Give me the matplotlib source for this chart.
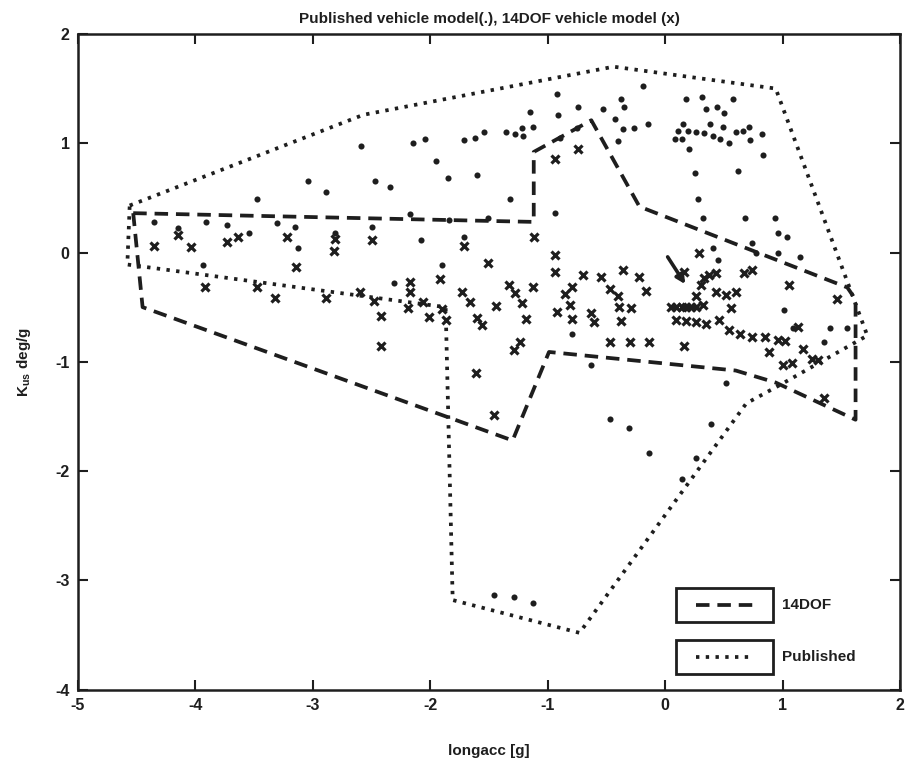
import numpy as np
import matplotlib.pyplot as plt
from matplotlib.lines import Line2D
from matplotlib.patches import Rectangle

plt.rcParams['font.family'] = ['Liberation Sans', 'DejaVu Sans']
plt.rcParams['font.weight'] = 'bold'
plt.rcParams['axes.unicode_minus'] = False
plt.rcParams['mathtext.fontset'] = 'custom'
plt.rcParams['mathtext.rm'] = 'Liberation Sans:bold'
plt.rcParams['mathtext.it'] = 'Liberation Sans:bold'
plt.rcParams['mathtext.bf'] = 'Liberation Sans:bold'

# published vehicle model results (.)  -> longacc [g], Kus [deg/g]
published_pts = np.array([
    (-4.35, 0.28), (-4.15, 0.22), (-3.91, 0.28), (-3.73, 0.25), (-3.48, 0.49), (-3.54, 0.18),
    (-3.31, 0.27), (-3.15, 0.23), (-3.13, 0.04), (-3.04, 0.65), (-2.89, 0.55), (-2.81, 0.18),
    (-2.59, 0.97), (-3.94, -0.11), (-2.50, 0.23), (-2.31, -0.28), (-2.08, 0.11), (-1.90, -0.11),
    (-1.71, 0.14), (-2.47, 0.65), (-2.34, 0.60), (-2.17, 0.35), (-1.84, 0.30), (-1.51, 0.32),
    (-2.15, 1.00), (-2.05, 1.04), (-1.95, 0.84), (-1.85, 0.68), (-1.71, 1.03), (-1.62, 1.05),
    (-1.60, 0.71), (-1.54, 1.10), (-1.36, 1.10), (-1.28, 1.08), (-1.22, 1.14), (-1.21, 1.07),
    (-1.13, 1.15), (-1.15, 1.29), (-0.92, 1.45), (-0.91, 1.26), (-0.75, 1.14), (-0.74, 1.33),
    (-0.53, 1.31), (-0.43, 1.22), (-0.38, 1.40), (-0.35, 1.33), (-0.36, 1.13), (-0.27, 1.14),
    (-0.19, 1.52), (-0.15, 1.18), (-0.40, 1.02), (-0.90, 1.05), (-1.32, 0.49), (-0.94, 0.36),
    (0.18, 1.40), (0.31, 1.42), (0.35, 1.31), (0.44, 1.33), (0.50, 1.28), (0.58, 1.40),
    (0.15, 1.18), (0.38, 1.18), (0.49, 1.15), (0.11, 1.11), (0.19, 1.11), (0.26, 1.10),
    (0.33, 1.09), (0.41, 1.07), (0.08, 1.04), (0.14, 1.04), (0.47, 1.04), (0.54, 1.00),
    (0.60, 1.10), (0.66, 1.11), (0.71, 1.15), (0.72, 1.03), (0.82, 1.08), (0.20, 0.95),
    (0.83, 0.89), (0.25, 0.73), (0.62, 0.75), (0.28, 0.49), (0.32, 0.32), (0.68, 0.32),
    (0.93, 0.32), (0.96, 0.18), (1.04, 0.14), (0.74, 0.09), (0.41, 0.04), (0.77, 0.00),
    (0.96, 0.00), (1.15, -0.04), (0.45, -0.07), (-0.79, -0.75), (-0.63, -1.03), (0.52, -1.19),
    (1.01, -0.53), (1.09, -0.69), (1.40, -0.69), (1.35, -0.82), (1.55, -0.69),
    (-1.46, -3.13), (-1.29, -3.15), (-1.13, -3.21), (-0.47, -1.52), (-0.31, -1.61),
    (-0.14, -1.83), (0.39, -1.57), (0.26, -1.88), (0.14, -2.07),
])

# 14DOF vehicle model results (x)
dof_pts = np.array([
    (-4.35, 0.06), (-4.15, 0.16), (-4.04, 0.05), (-3.73, 0.10), (-3.64, 0.14), (-3.22, 0.14),
    (-3.14, -0.13), (-2.82, 0.01), (-2.81, 0.12), (-3.92, -0.32), (-3.48, -0.32), (-3.32, -0.42),
    (-2.89, -0.42), (-2.60, -0.36), (-2.50, 0.11), (-2.48, -0.44), (-2.42, -0.58), (-2.42, -0.86),
    (-2.17, -0.27), (-2.17, -0.36), (-2.19, -0.51), (-2.06, -0.45), (-2.01, -0.59), (-1.92, -0.24),
    (-1.90, -0.52), (-1.87, -0.62), (-1.71, 0.06), (-1.51, -0.10), (-1.73, -0.36), (-1.66, -0.45),
    (-1.60, -0.60), (-1.56, -0.66), (-1.44, -0.49), (-1.33, -0.30), (-1.28, -0.37), (-1.22, -0.46),
    (-1.19, -0.61), (-1.24, -0.82), (-1.29, -0.89), (-1.13, -0.32), (-1.61, -1.10), (-1.12, 0.14),
    (-0.94, -0.02), (-0.94, 0.86), (-0.74, 0.95), (-0.94, -0.18), (-0.70, -0.21), (-0.55, -0.22),
    (-0.36, -0.16), (-0.22, -0.22), (-0.16, -0.35), (-0.92, -0.54), (-0.85, -0.38), (-0.79, -0.32),
    (-0.81, -0.48), (-0.79, -0.61), (-0.63, -0.55), (-0.61, -0.64), (-0.47, -0.33), (-0.40, -0.40),
    (-0.39, -0.50), (-0.38, -0.63), (-0.29, -0.51), (-0.47, -0.82), (-0.30, -0.82), (-0.14, -0.82),
    (0.16, -0.86), (0.16, -0.18), (0.26, -0.40), (0.30, -0.30), (0.33, -0.23), (0.37, -0.21),
    (0.43, -0.19), (0.29, 0.00), (0.32, -0.48), (0.43, -0.36), (0.52, -0.39), (0.60, -0.36),
    (0.56, -0.51), (0.67, -0.19), (0.74, -0.16), (1.05, -0.30), (0.88, -0.91), (1.00, -1.03),
    (1.08, -1.01), (0.46, -0.62), (0.54, -0.71), (0.64, -0.75), (0.74, -0.77), (0.85, -0.77),
    (0.96, -0.80), (1.02, -0.81), (1.13, -0.68), (1.17, -0.88), (1.25, -0.97), (1.30, -0.98),
    (1.46, -0.43), (1.35, -1.33), (-1.46, -1.49),
    (0.05, -0.50), (0.09, -0.50), (0.14, -0.50), (0.18, -0.50), (0.22, -0.50), (0.26, -0.50),
    (0.09, -0.62), (0.18, -0.63), (0.26, -0.64), (0.35, -0.65),
])

# envelope of the 14DOF results (dashed)
dof_env_x = [-4.53, -1.12, -1.12, -0.63, -0.22, 1.55, 1.62, 1.62, 0.94, 0.60, -0.99, -1.30, -4.45, -4.53]
dof_env_y = [0.36, 0.28, 0.92, 1.21, 0.42, -0.32, -0.43, -1.53, -1.19, -1.08, -0.91, -1.72, -0.50, 0.36]

# envelope of the published results (dotted)
pub_env_x = [-4.56, -2.57, -0.44, 0.94, 1.72, 0.98, 0.69, -0.73, -1.81, -1.87, -4.58, -4.56]
pub_env_y = [0.43, 1.26, 1.70, 1.50, -0.76, -1.21, -1.38, -3.48, -3.18, -0.50, -0.11, 0.43]

ink = '#1e1e1e'
dash_style = (0, (3.6, 2.1))
dot_style = (0, (0.9, 1.7))

fig = plt.figure(figsize=(9.06, 7.62), dpi=100)
ax = fig.add_axes([0.0861, 0.0949, 0.9075, 0.8606])

ax.plot(dof_env_x, dof_env_y, color=ink, lw=2.7, linestyle=dash_style)
ax.plot(pub_env_x, pub_env_y, color=ink, lw=2.7, linestyle=dot_style)

ax.plot(published_pts[:, 0], published_pts[:, 1], 'o', color=ink, ms=4.4, mew=0)
ax.plot(dof_pts[:, 0], dof_pts[:, 1], 'x', color=ink, ms=6, mew=2.3)

# arrow marker drawn on the original figure
ax.annotate('', xy=(0.17, -0.29), xytext=(0.02, -0.04),
            arrowprops=dict(arrowstyle='-|>', lw=2.6, color=ink, mutation_scale=13,
                            shrinkA=0, shrinkB=0))

ax.set_xlim(-5, 2)
ax.set_ylim(-4, 2)
ax.set_xticks(range(-5, 3))
ax.set_yticks(range(-4, 3))
ax.tick_params(direction='in', top=True, right=True, length=7, width=1.5,
               labelsize=11.5, colors=ink, pad=6)
for sp in ax.spines.values():
    sp.set_linewidth(1.8)
    sp.set_color(ink)

ax.set_title('Published vehicle model(.), 14DOF vehicle model (x)',
             fontsize=11, fontweight='bold', color=ink, pad=8)
ax.set_xlabel('longacc [g]', fontsize=11, fontweight='bold', color=ink, labelpad=22)
ax.set_ylabel(r'K$_{\rm us}$ deg/g', fontsize=11, fontweight='bold', color=ink, labelpad=16)

# legend drawn as two separate framed samples with labels outside the frames
legend_items = [('14DOF', dash_style, 0.129), ('Published', dot_style, 0.050)]
for label, style, yc in legend_items:
    ax.add_patch(Rectangle((0.727, yc - 0.026), 0.118, 0.052, transform=ax.transAxes,
                           fill=True, facecolor='white', edgecolor=ink, lw=2, zorder=5))
    ax.add_line(Line2D([0.752, 0.822], [yc, yc], transform=ax.transAxes, color=ink,
                       lw=2.7, linestyle=style, zorder=6))
    ax.text(0.856, yc, label, transform=ax.transAxes, fontsize=11, fontweight='bold',
            color=ink, va='center', ha='left', zorder=6)

fig.savefig('out.png', dpi=100)
